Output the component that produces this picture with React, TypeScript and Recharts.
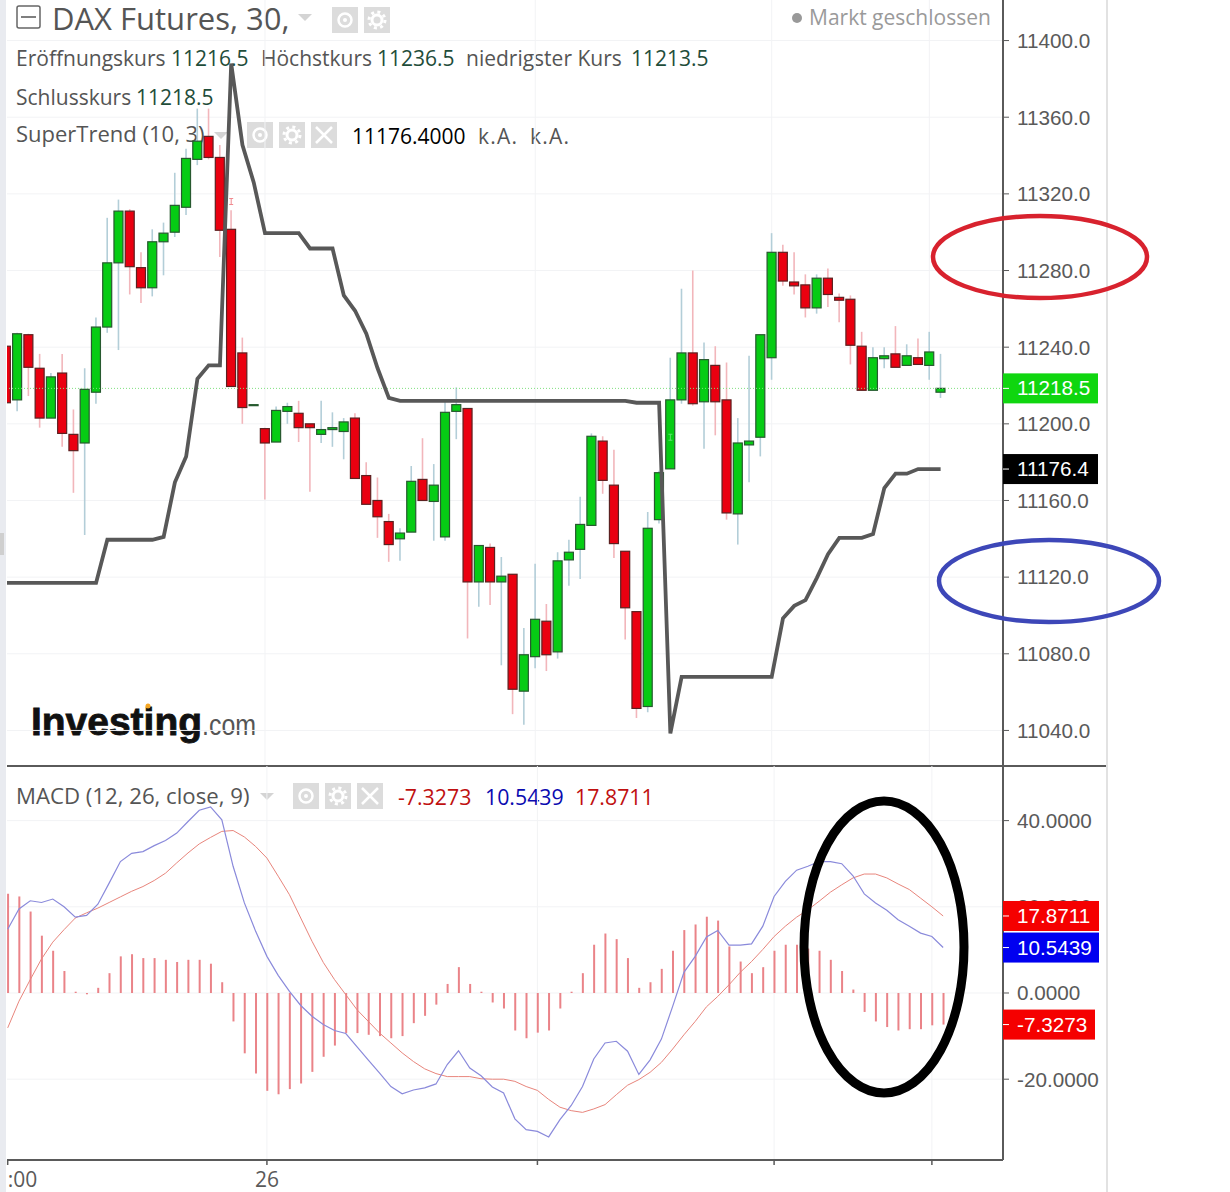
import React from 'react';
import { ComposedChart, Bar, Line, XAxis, YAxis, CartesianGrid, ReferenceLine, ReferenceDot } from 'recharts';

const opens = [11240.5,11212.5,11246.5,11229,11203,11226.5,11194.5,11190,11216.5,11250.5,11284,11311,11281.5,11271,11295,11300,11313,11338,11350,11339,11301.5,11237,11209.5,11197.5,11190.5,11206.5,11205.5,11200,11194.5,11197,11196,11203,11173,11160,11149,11140,11143.5,11171,11159.5,11141,11206.5,11208,11117.5,11135.5,11117.5,11121.5,11060.5,11078.5,11097,11081,11129,11134.5,11147,11191,11168,11133.5,11102,11052.5,11150,11176.5,11212.5,11237,11211.5,11230.5,11212.5,11153,11189,11193,11234.5,11289.5,11274,11272.5,11260.5,11276,11266,11265,11240.5,11217.5,11234,11236.5,11230.5,11234.5,11230.5,11216.5];
const highs = [11240.5,11247.5,11247,11236.5,11226.5,11236.5,11207.5,11229,11255.5,11307.5,11317,11312,11289.5,11301.5,11305,11331,11343.5,11364.5,11364.5,11345.5,11311.5,11245,11210,11198,11209,11211,11212,11200,11212,11206,11203,11205.5,11180,11172,11153,11145.5,11178,11192.5,11179,11212.5,11219,11208,11136.5,11137.5,11130.5,11121.5,11093.5,11127,11106,11133,11139.5,11162,11195,11193.5,11186.5,11133.5,11102,11154,11175.5,11234.5,11270.5,11280,11242.5,11240.5,11232,11203,11235.5,11246.5,11299.5,11293.5,11289.5,11278,11278,11281,11268,11267,11248,11240,11240,11251,11241.5,11244.5,11248,11236.5];
const lows = [11211,11206.5,11214.5,11198,11203,11188,11164,11142,11210.5,11247.5,11238.5,11267.5,11263,11266.5,11277.5,11297.5,11309,11335,11338,11287,11219.5,11200,11209.5,11160.5,11190.5,11200,11190.5,11164.5,11190,11188,11181.5,11171.5,11158,11140.5,11128,11128.5,11143.5,11160,11139,11139,11192,11088,11104.5,11105.5,11074,11048.5,11043,11072.5,11071,11077.5,11115.5,11119,11147,11163.5,11130,11087.5,11046.5,11049.5,11148,11176.5,11210.5,11209.5,11187,11194,11150,11137,11169.5,11183,11223,11272,11267.5,11255.5,11257.5,11261,11253,11231,11217.5,11217.5,11229,11229.5,11230.5,11231,11223,11213.5];
const closes = [11211,11247,11229.5,11203,11224.5,11195,11186,11218,11250.5,11284,11311,11282,11271,11295,11299.5,11314,11338.5,11347.5,11339,11301,11219.5,11208.5,11210,11190,11207,11209,11198,11198,11197,11198,11201,11171.5,11158,11151.5,11137,11143,11170,11160,11168,11206,11210,11117.5,11136.5,11117.5,11120.5,11061.5,11079.5,11098,11079.5,11128.5,11133,11147.5,11193.5,11170.5,11137.5,11104,11051.5,11145.5,11174.5,11212.5,11237,11210.5,11233.5,11211.5,11153.5,11190,11191,11246.5,11289.5,11274.5,11272,11260.5,11276,11267.5,11264.5,11241,11217.5,11234.5,11235.5,11229.5,11235.5,11231,11237.5,11218.5];
const superTrend = [11117,11117,11117,11117,11117,11117,11117,11117,11117,11139.5,11139.5,11139.5,11139.5,11139.5,11141,11169.5,11183,11223.5,11230.5,11230.5,11388,11345.5,11326,11299.5,11299.5,11299.5,11299.5,11291.5,11291.5,11291.5,11267,11259,11247,11229,11213.5,11212,11212,11212,11212,11212,11212,11212,11212,11212,11212,11212,11212,11212,11212,11212,11212,11212,11212,11212,11212,11212,11211,11211,11211,11038.5,11068,11068,11068,11068,11068,11068,11068,11068,11068,11098.5,11105,11108,11119.5,11132,11140.5,11140.5,11140.5,11142.5,11166.5,11174,11174,11176.4,11176.4,11176.4];
const macdLine = [14.8,19.5,21.4,21,21.8,20,17.6,18,20.6,25.5,30.5,32.4,32.8,34.2,35.4,37.1,39.8,42.4,43.2,40.2,29.4,20.9,14.3,8.5,4.1,0.4,-2.9,-5.4,-7.3,-8.7,-9.4,-12.5,-15.6,-18.6,-21.7,-23.4,-22.5,-22,-21.1,-16.6,-13.4,-17.4,-19.2,-21.8,-23.2,-29.2,-31.7,-32.1,-33.4,-29.4,-26.1,-21.7,-15.3,-11.6,-11.2,-13.5,-18.9,-15.5,-10.7,-3.1,4.8,8.5,13,14.5,11.1,11.1,11.4,15.5,22.4,25.9,28.5,29.4,30.5,30.5,30,27.2,23,20.9,19.2,17,15.5,13.9,13.1,10.5439];
const signalLine = [-8.1,-1.9,3.1,7.9,11.8,14.7,17.4,18.6,19.7,21,22.3,23.6,24.7,26.1,27.8,30.2,32.5,34.6,36.1,37.5,37.7,36.2,34,31.3,27.1,22.8,17.4,12,7.1,3.1,-0.4,-3.9,-6.6,-9.3,-11.6,-13.9,-15.9,-17.6,-18.7,-19.4,-19.4,-19.4,-19.9,-20,-20,-20.5,-21.7,-22.6,-24.7,-26.5,-27.3,-27.7,-26.9,-25.9,-23.6,-21.4,-20.1,-18.4,-16.1,-13,-9.7,-6.6,-3.2,-0.8,1.9,4.8,7.3,10.1,13.1,15.5,17.6,19.3,21.3,23.4,25.1,26.7,27.6,27.6,26.7,25.3,24,22,20,17.8711];
const histogram = [23,22.4,18.9,13.3,9.8,5.1,0.3,-0.3,1.2,4.6,8.5,9,8.1,8.1,7.7,7.2,7.7,7.7,6.8,2.5,-6.6,-14,-18.7,-22.7,-23.5,-22.3,-21,-18.3,-14.8,-12.2,-9.3,-9.3,-9.7,-10,-10.5,-10,-7,-5.3,-2.7,2.1,6,2.1,0.3,-2.2,-3.6,-8.7,-10.5,-9.2,-8.7,-3.6,0.3,4.6,11.2,13.8,12.5,8.1,1.2,2.5,5.6,9.8,14.6,15.9,17.7,16.8,10.8,7.3,4.6,6,9.8,11.2,11.2,10.3,9.8,7.7,5.1,0.8,-4.4,-6.6,-7.9,-8.7,-8.4,-8.4,-7.5,-7.3273];

const priceTicks = [11040,11080,11120,11160,11200,11240,11280,11320,11360,11400];
const macdTicks = [-20,0,20,40];
const timeTicks = [0,23,47,68,82];
const timeLabels: Record<number, string> = { 0: ':00', 23: '26' };

const PRICE_DOMAIN = [11021.45, 11421.16];
const MACD_DOMAIN = [-38.75, 52.67];

const priceRows = opens.map((open, i) => ({
  i, open, close: closes[i], high: highs[i], low: lows[i], range: [lows[i], highs[i]], superTrend: superTrend[i],
}));
const macdRows = histogram.map((hist, i) => ({ i, hist, macd: macdLine[i], signal: signalLine[i] }));

const LEGEND_FONT = '"Open Sans", sans-serif';
const AXIS_FONT = '"Liberation Sans", sans-serif';
const AXIS_COLOR = '#5a5a5a';
const GRID_COLOR = '#f2f3f5';
const AXIS_SIZE = 20.7;

const Candle = (props: any) => {
  const { x, y, width, height, payload } = props;
  const { open, close, high, low } = payload;
  const up = close >= open;
  const perUnit = height / (high - low);
  const yOf = (v: number) => y + (high - v) * perUnit;
  const cx = x + width / 2;
  const top = yOf(Math.max(open, close));
  const bottom = yOf(Math.min(open, close));
  return (
    <g>
      <line x1={cx} x2={cx} y1={y} y2={y + height} stroke={up ? '#b3ced8' : '#f2b6bb'} strokeWidth={1.6} />
      <rect x={x} y={top} width={width} height={Math.max(bottom - top, 1)} fill={up ? '#06cc14' : '#ea0010'} stroke={up ? '#27592f' : '#5c2020'} strokeWidth={1.2} />
    </g>
  );
};

const priceTag = (text: string, bg: string, tagWidth: number) => (props: any) => {
  const { viewBox } = props;
  const right = viewBox.x + viewBox.width;
  return (
    <g>
      <rect x={right} y={viewBox.y - 15} width={tagWidth} height={30} fill={bg} />
      <line x1={right} x2={right + 6} y1={viewBox.y} y2={viewBox.y} stroke="#fff" strokeWidth={1} />
      <text x={right + 14} y={viewBox.y + 7} fill="#fff" fontSize={AXIS_SIZE} fontFamily={AXIS_FONT}>{text}</text>
    </g>
  );
};

const TimeTick = (props: any) => {
  const { x, y, payload } = props;
  const label = timeLabels[payload.value];
  if (!label) return null;
  return (
    <text x={x} y={y + 20} textAnchor={payload.value === 0 ? 'start' : 'middle'} fill={AXIS_COLOR} fontSize={21} fontFamily={LEGEND_FONT}>{label}</text>
  );
};

const SignalMark = (color: string) => (props: any) => (
  <path d={`M${props.cx - 2} ${props.cy - 3}h4M${props.cx} ${props.cy - 3}v6M${props.cx - 2} ${props.cy + 3}h4`} stroke={color} strokeWidth={1} fill="none" />
);

const Eye = ({ x, y }: { x: number; y: number }) => (
  <g>
    <rect x={x} y={y} width={26} height={26} fill="#dcdcdc" />
    <circle cx={x + 13} cy={y + 13} r={6.5} fill="none" stroke="#fff" strokeWidth={2.5} />
    <circle cx={x + 13} cy={y + 13} r={2} fill="#fff" />
  </g>
);

const Gear = ({ x, y }: { x: number; y: number }) => (
  <g>
    <rect x={x} y={y} width={26} height={26} fill="#dcdcdc" />
    <circle cx={x + 13} cy={y + 13} r={8} fill="none" stroke="#fff" strokeWidth={3} strokeDasharray="3 3.3" />
    <circle cx={x + 13} cy={y + 13} r={5} fill="none" stroke="#fff" strokeWidth={3} />
  </g>
);

const Cross = ({ x, y }: { x: number; y: number }) => (
  <g>
    <rect x={x} y={y} width={26} height={26} fill="#dcdcdc" />
    <path d={`M${x + 5} ${y + 5}L${x + 21} ${y + 21}M${x + 21} ${y + 5}L${x + 5} ${y + 21}`} stroke="#fff" strokeWidth={2.5} />
  </g>
);

const Caret = ({ x, y }: { x: number; y: number }) => (
  <path d={`M${x} ${y}h14l-7 7z`} fill="#d4d4d4" />
);

const Legend = () => (
  <svg width={1230} height={1192} style={{ position: 'absolute', left: 0, top: 0 }} fontFamily={LEGEND_FONT}>
    <rect x={17} y={6} width={23} height={22} rx={2} fill="none" stroke="#666" strokeWidth={1.5} />
    <line x1={21} x2={36} y1={17} y2={17} stroke="#555" strokeWidth={1.5} />
    <text x={52} y={30} fontSize={31} fill="#555">DAX Futures, 30,</text>
    <Caret x={298} y={14} />
    <Eye x={332} y={7} />
    <Gear x={364} y={7} />
    <circle cx={797} cy={18} r={5} fill="#999" />
    <text x={809} y={25} fontSize={21} fill="#9a9a9a">Markt geschlossen</text>

    <text x={16} y={66} fontSize={21} fill="#555">Eröffnungskurs</text>
    <text x={171} y={66} fontSize={21} fill="#1f4d3a">11216.5</text>
    <text x={261} y={66} fontSize={21} fill="#555">Höchstkurs</text>
    <text x={377} y={66} fontSize={21} fill="#1f4d3a">11236.5</text>
    <text x={466} y={66} fontSize={21} fill="#555">niedrigster Kurs</text>
    <text x={631} y={66} fontSize={21} fill="#1f4d3a">11213.5</text>
    <text x={16} y={105} fontSize={21} fill="#555">Schlusskurs</text>
    <text x={136} y={105} fontSize={21} fill="#1f4d3a">11218.5</text>

    <text x={16} y={142} fontSize={22} fill="#555">SuperTrend (10, 3)</text>
    <Caret x={214} y={132} />
    <Eye x={247} y={122} />
    <Gear x={279} y={122} />
    <Cross x={311} y={122} />
    <text x={352} y={144} fontSize={21} fill="#000">11176.4000</text>
    <text x={478} y={144} fontSize={21} letterSpacing={1.2} fill="#555">k.A.</text>
    <text x={530} y={144} fontSize={21} letterSpacing={1.2} fill="#555">k.A.</text>

    <text x={31} y={735} fontSize={38} fontWeight={700} fontFamily={AXIS_FONT} fill="#111" stroke="#111" strokeWidth={0.8} textLength={171} lengthAdjust="spacingAndGlyphs">Investing</text>
    <text x={202} y={735} fontSize={29} fontFamily={AXIS_FONT} fill="#555" textLength={54} lengthAdjust="spacingAndGlyphs">.com</text>
    <circle cx={148} cy={706} r={2.5} fill="#f5a623" />

    <text x={16} y={804} fontSize={22.2} fill="#555">MACD (12, 26, close, 9)</text>
    <Caret x={260} y={793} />
    <Eye x={293} y={783} />
    <Gear x={325} y={783} />
    <Cross x={357} y={783} />
    <text x={398} y={805} fontSize={21.3} fill="#c01010">-7.3273</text>
    <text x={485} y={805} fontSize={21.3} fill="#0a0ab0">10.5439</text>
    <text x={575} y={805} fontSize={21.3} fill="#c01010">17.8711</text>
  </svg>
);

const Annotations = () => (
  <svg width={1230} height={1192} style={{ position: 'absolute', left: 0, top: 0, pointerEvents: 'none' }}>
    <ellipse cx={1040} cy={257} rx={107} ry={41} fill="none" stroke="#d8222e" strokeWidth={4.5} />
    <ellipse cx={1049} cy={581} rx={110} ry={41} fill="none" stroke="#3d47b8" strokeWidth={4.5} />
    <ellipse cx={884} cy={947} rx={80} ry={146} fill="none" stroke="#000" strokeWidth={9} />
  </svg>
);

// tags go in their own chart on top, the axis labels would cover them otherwise
const TagLayer = ({ top, height, bottom, domain, data, tags }: any) => (
  <div style={{ position: 'absolute', left: 0, top, pointerEvents: 'none' }}>
    <ComposedChart width={1230} height={height} data={data} margin={{ top: 0, right: 227, bottom, left: 7 }}>
      <XAxis dataKey="i" type="number" hide />
      <YAxis hide domain={domain} allowDataOverflow />
      {tags.map((t: any) => (
        <ReferenceLine key={t.text} y={t.value} stroke="none" label={priceTag(t.text, t.bg, t.w)} />
      ))}
    </ComposedChart>
  </div>
);

const priceTags = [
  { value: 11218.5, text: '11218.5', bg: '#0fd60f', w: 95 },
  { value: 11176.4, text: '11176.4', bg: '#000', w: 95 },
];
const macdTags = [
  { value: 17.8711, text: '17.8711', bg: '#f50000', w: 96 },
  { value: 10.5439, text: '10.5439', bg: '#0000f0', w: 96 },
  { value: -7.3273, text: '-7.3273', bg: '#f50000', w: 92 },
];

export default function App() {
  return (
    <div style={{ position: 'absolute', left: 0, top: 0, width: 1230, height: 1192, background: '#fff', overflow: 'hidden' }}>
      <div style={{ position: 'absolute', left: 0, top: 0, width: 6, height: 1192, background: '#e9ebf0' }} />
      <div style={{ position: 'absolute', left: 0, top: 533, width: 4, height: 22, background: '#cfcfcf' }} />
      <div style={{ position: 'absolute', left: 1106, top: 0, width: 2, height: 1192, background: '#e2e2e2' }} />
      <Legend />
      <div style={{ position: 'absolute', left: 0, top: 0 }}>
        <ComposedChart width={1230} height={766} data={priceRows} margin={{ top: 0, right: 0, bottom: 0, left: 7 }}>
          <CartesianGrid stroke={GRID_COLOR} verticalValues={timeTicks.slice(1)} horizontalValues={priceTicks} />
          <XAxis dataKey="i" type="number" domain={[0.09, 88.54]} allowDataOverflow hide ticks={timeTicks} />
          <YAxis
            orientation="right"
            width={227}
            domain={PRICE_DOMAIN}
            allowDataOverflow
            ticks={priceTicks}
            interval={0}
            tickFormatter={(v: number) => v.toFixed(1)}
            tick={{ fill: AXIS_COLOR, fontSize: AXIS_SIZE, fontFamily: AXIS_FONT }}
            tickSize={6}
            tickMargin={8}
            axisLine={{ stroke: AXIS_COLOR, strokeWidth: 2 }}
            tickLine={{ stroke: AXIS_COLOR }}
          />
          <ReferenceLine y={11218.5} stroke="#7fe07f" strokeDasharray="1 2" />
          <Line dataKey="superTrend" type="linear" stroke="#585858" strokeWidth={3.8} dot={false} isAnimationActive={false} />
          <Bar dataKey="range" barSize={9} shape={<Candle />} isAnimationActive={false} />
          <ReferenceDot x={20} y={11316} r={3} shape={SignalMark('#f08a90')} />
          <ReferenceDot x={59} y={11193} r={3} shape={SignalMark('#5fe06f')} />
        </ComposedChart>
      </div>
      <TagLayer top={0} height={766} bottom={0} domain={PRICE_DOMAIN} data={priceRows} tags={priceTags} />
      <div style={{ position: 'absolute', left: 7, top: 765, width: 1099, height: 2, background: AXIS_COLOR }} />
      <div style={{ position: 'absolute', left: 0, top: 766 }}>
        <ComposedChart width={1230} height={426} data={macdRows} margin={{ top: 0, right: 0, bottom: 0, left: 7 }}>
          <CartesianGrid stroke={GRID_COLOR} verticalValues={timeTicks.slice(1)} horizontalValues={macdTicks} />
          <XAxis
            dataKey="i"
            type="number"
            domain={[-0.062, 88.31]}
            allowDataOverflow
            ticks={timeTicks}
            interval={0}
            height={32}
            tick={<TimeTick />}
            tickSize={5}
            axisLine={{ stroke: AXIS_COLOR, strokeWidth: 2 }}
            tickLine={{ stroke: AXIS_COLOR, strokeWidth: 1.5 }}
          />
          <YAxis
            orientation="right"
            width={227}
            domain={MACD_DOMAIN}
            allowDataOverflow
            ticks={macdTicks}
            interval={0}
            tickFormatter={(v: number) => v.toFixed(4)}
            tick={{ fill: AXIS_COLOR, fontSize: AXIS_SIZE, fontFamily: AXIS_FONT }}
            tickSize={6}
            tickMargin={8}
            axisLine={{ stroke: AXIS_COLOR, strokeWidth: 2 }}
            tickLine={{ stroke: AXIS_COLOR }}
          />
          <Bar dataKey="hist" barSize={2} fill="#ea8388" isAnimationActive={false} />
          <Line dataKey="signal" type="linear" stroke="#e8857c" strokeWidth={1} dot={false} isAnimationActive={false} />
          <Line dataKey="macd" type="linear" stroke="#8a8adb" strokeWidth={1.2} dot={false} isAnimationActive={false} />
        </ComposedChart>
      </div>
      <TagLayer top={766} height={426} bottom={32} domain={MACD_DOMAIN} data={macdRows} tags={macdTags} />
      <Annotations />
    </div>
  );
}
